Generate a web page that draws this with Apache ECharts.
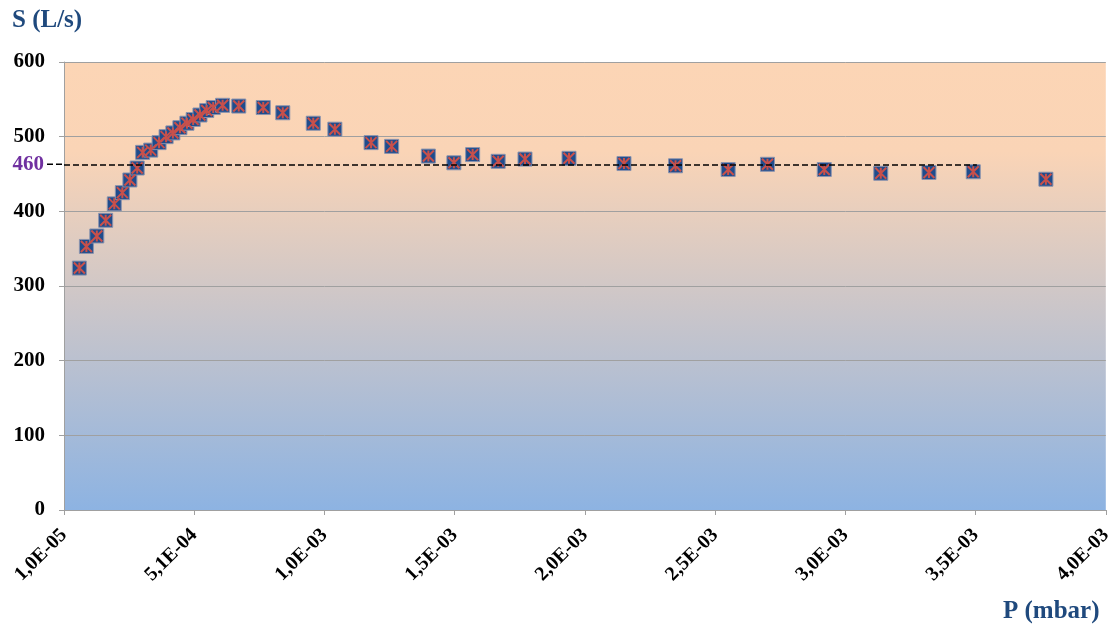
<!DOCTYPE html>
<html>
<head>
<meta charset="utf-8">
<script src="https://cdn.jsdelivr.net/npm/echarts@6/dist/echarts.min.js"></script>
<style>
  html, body { margin: 0; padding: 0; background: #fff; }
  #chart { width: 1115px; height: 626px; }
</style>
</head>
<body>
<div id="chart"></div>
<script>
// pressure P (mbar)
var pressure = [
  6.9e-5, 9.6e-5, 1.36e-4, 1.70e-4, 2.03e-4, 2.34e-4, 2.63e-4, 2.91e-4,
  3.12e-4, 3.43e-4, 3.75e-4, 4.02e-4, 4.28e-4, 4.55e-4, 4.82e-4, 5.06e-4,
  5.32e-4, 5.58e-4, 5.83e-4, 6.19e-4, 6.81e-4, 7.75e-4, 8.50e-4, 9.67e-4,
  1.050e-3, 1.189e-3, 1.268e-3, 1.409e-3, 1.507e-3, 1.579e-3, 1.677e-3, 1.780e-3,
  1.949e-3, 2.160e-3, 2.358e-3, 2.560e-3, 2.711e-3, 2.929e-3, 3.146e-3, 3.331e-3,
  3.501e-3, 3.780e-3
];
// pumping speed S (L/s)
var speed = [
  324, 353, 367, 388, 410, 425, 442, 458,
  479, 482, 492, 500, 505, 512, 518, 523,
  529, 535, 539, 542, 541, 539, 532, 518,
  510, 492, 487, 474, 465, 476, 467, 470,
  471, 464, 461, 456, 463, 456, 451, 452,
  453, 443
];
var refLevel = 463;      // where the dashed line is drawn
var refLabel = '460';
var refEnd = 3.515e-3;

var points = pressure.map(function (p, i) { return [p, speed[i]]; });

function fmtP(v) {
  var s = v.toExponential(1);           // e.g. 5.1e-4
  var parts = s.split('e');
  var exp = parseInt(parts[1], 10);
  var sign = exp < 0 ? '-' : '+';
  var e = Math.abs(exp);
  return parts[0].replace('.', ',') + 'E' + sign + (e < 10 ? '0' + e : e);
}

var chart = echarts.init(document.getElementById('chart'));
var serif = '"Liberation Serif", "Times New Roman", serif';
var dash = [6, 3];

chart.setOption({
  animation: false,
  grid: {
    left: 64, right: 9, top: 62, bottom: 116,
    show: true,
    borderWidth: 0,
    backgroundColor: new echarts.graphic.LinearGradient(0, 0, 0, 1, [
      { offset: 0, color: '#FCD5B5' },
      { offset: 0.2, color: '#FAD4B6' },
      { offset: 1, color: '#8DB3E2' }
    ])
  },
  xAxis: {
    type: 'value',
    min: 1e-5,
    max: 4.01e-3,
    interval: 5e-4,
    axisLine: { show: true, lineStyle: { color: '#A0A0A0', width: 1 } },
    axisTick: { show: true, length: 5, lineStyle: { color: '#A0A0A0' } },
    splitLine: { show: false },
    axisLabel: {
      rotate: 45,
      margin: 22,
      color: '#000',
      fontFamily: serif,
      fontWeight: 'bold',
      fontSize: 20
    }
  },
  yAxis: {
    type: 'value',
    min: 0,
    max: 600,
    interval: 100,
    axisLine: { show: true, lineStyle: { color: '#A0A0A0', width: 1 } },
    axisTick: { show: true, length: 5, lineStyle: { color: '#A0A0A0' } },
    splitLine: { show: true, lineStyle: { color: '#A0A0A0', width: 1 } },
    axisLabel: {
      margin: 19,
      color: '#000',
      fontFamily: serif,
      fontWeight: 'bold',
      fontSize: 21
    }
  },
  series: [
    {
      name: 'S',
      type: 'scatter',
      data: points,
      symbol: 'rect',
      symbolSize: 14,
      itemStyle: { color: '#1F4C8C', borderColor: '#8A93AE', borderWidth: 1, opacity: 1 },
      z: 3,
      markLine: {
        silent: true,
        symbol: 'none',
        lineStyle: { color: '#000', type: dash, width: 1.5 },
        label: { show: false },
        data: [[
          { coord: [1e-5, refLevel] },
          { coord: [refEnd, refLevel] }
        ]]
      }
    },
    {
      name: 'S star',
      type: 'scatter',
      data: points,
      symbol: 'path://M0,0L10,10M10,0L0,10M5,0L5,10',
      symbolSize: 11,
      itemStyle: { color: 'rgba(0,0,0,0)', borderColor: '#C8504B', borderWidth: 2, opacity: 1 },
      z: 4
    }
  ]
});

// x tick labels in the "1,0E-05" style
chart.setOption({ xAxis: { axisLabel: { formatter: fmtP } } });

// axis titles, the "460" label and the short dash stub left of the axis
var refY = chart.convertToPixel({ gridIndex: 0 }, [1e-5, refLevel])[1];
chart.setOption({
  graphic: [
    {
      type: 'text', left: 12, top: 8,
      style: { text: 'S (L/s)', fill: '#1F497D', font: 'bold 25px ' + serif }
    },
    {
      type: 'text', left: 1003, top: 599,
      style: { text: 'P (mbar)', fill: '#1F497D', font: 'bold 25px ' + serif }
    },
    {
      type: 'text', x: 44, y: refY,
      style: {
        text: refLabel, fill: '#7030A0', font: 'bold 21px ' + serif,
        align: 'right', verticalAlign: 'middle'
      }
    },
    {
      type: 'line', z: 5,
      shape: { x1: 47, y1: refY, x2: 64, y2: refY },
      style: { stroke: '#000', lineWidth: 1.5, lineDash: dash }
    }
  ]
});
</script>
</body>
</html>
